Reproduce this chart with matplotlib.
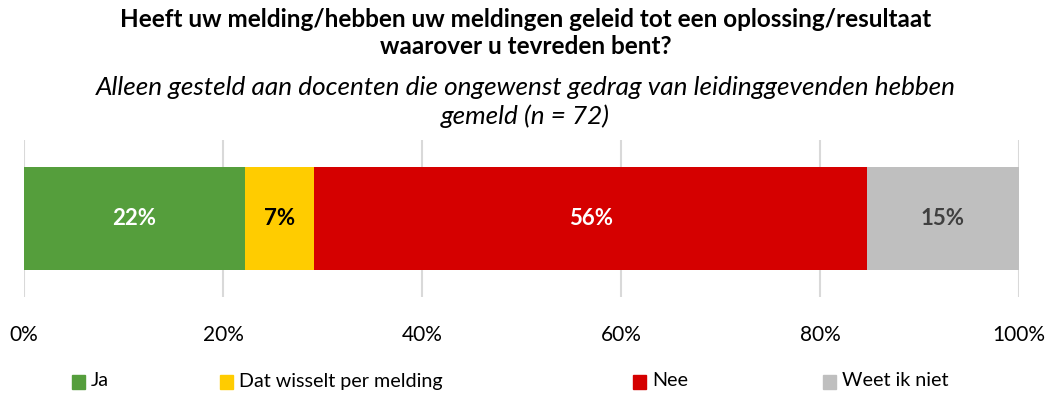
import matplotlib
matplotlib.use("Agg")
import matplotlib.pyplot as plt
from matplotlib.patches import Rectangle

plt.rcParams['font.family'] = ['Lato', 'DejaVu Sans']

# answers (n = 72), shares in percent
categories = ['Ja', 'Dat wisselt per melding', 'Nee', 'Weet ik niet']
counts = [16, 5, 40, 11]
total = 72
shares = [c / total * 100 for c in counts]
labels = ['22%', '7%', '56%', '15%']
colors = ['#559E3C', '#FFCC00', '#D50000', '#BFBFBF']
label_colors = ['white', 'black', 'white', '#404040']
ticks = [0, 20, 40, 60, 80, 100]
tick_labels = ['0%', '20%', '40%', '60%', '80%', '100%']

fig = plt.figure(figsize=(10.51, 3.94), dpi=100)
ax = fig.add_axes([24 / 1051, 1 - 297 / 394, (1019 - 24) / 1051, 157 / 394])

left = 0
for share, lab, col, lc in zip(shares, labels, colors, label_colors):
    ax.barh(0, share, left=left, height=0.65, color=col, zorder=3)
    ax.text(left + share / 2, 0, lab, ha='center', va='center',
            color=lc, fontsize=16, fontweight='bold', zorder=4)
    left += share

ax.set_xlim(0, 100)
ax.set_ylim(-0.5, 0.5)
ax.set_xticks(ticks)
ax.set_xticklabels(tick_labels, fontsize=15)
ax.set_yticks([])
ax.tick_params(axis='x', length=0, pad=20)
ax.grid(axis='x', color='#D9D9D9', linewidth=1.5, zorder=0)
for s in ax.spines.values():
    s.set_visible(False)

fig.text(0.5, 1 - 33 / 394,
         'Heeft uw melding/hebben uw meldingen geleid tot een oplossing/resultaat\nwaarover u tevreden bent?',
         ha='center', va='center', fontsize=17.5, fontweight='bold', linespacing=1.22)
fig.text(0.5, 1 - 102 / 394,
         'Alleen gesteld aan docenten die ongewenst gedrag van leidinggevenden hebben\ngemeld (n = 72)',
         ha='center', va='center', fontsize=18.8, style='italic', linespacing=1.25)

# legend row
legend_x = [72, 220, 633, 823]
for x, cat, col in zip(legend_x, categories, colors):
    fig.patches.append(Rectangle((x / 1051, 1 - 389 / 394), 13 / 1051, 14 / 394,
                                 transform=fig.transFigure, color=col))
    fig.text((x + 19) / 1051, 1 - 381 / 394, cat, ha='left', va='center', fontsize=14.2)

fig.savefig('out.png', dpi=100)
